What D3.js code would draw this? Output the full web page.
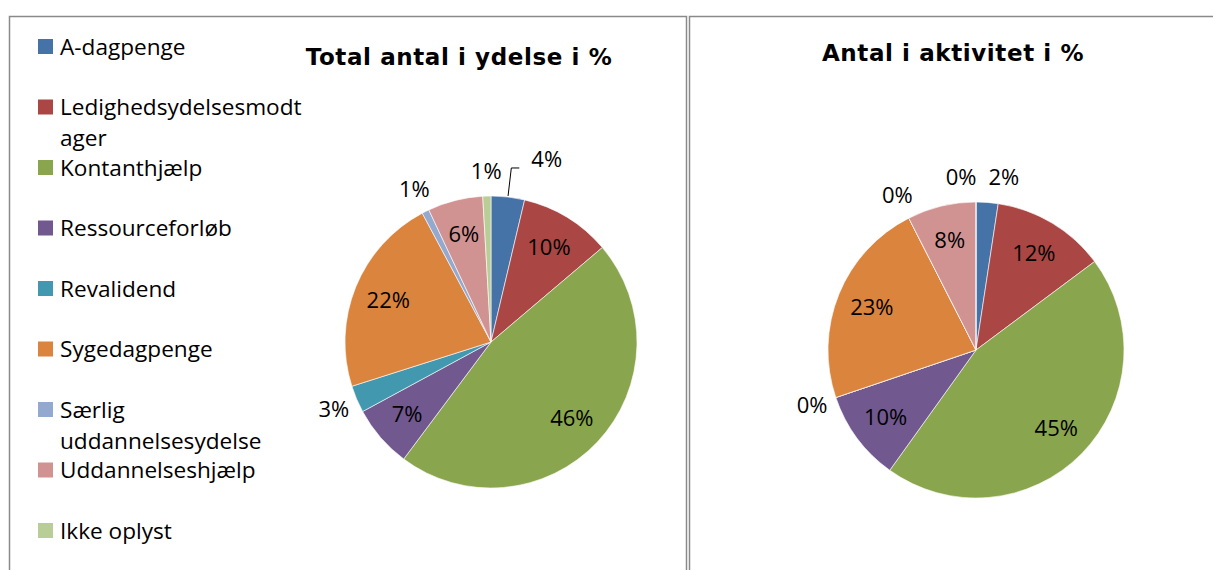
<!DOCTYPE html>
<html>
<head>
<meta charset="utf-8">
<script src="https://cdn.jsdelivr.net/npm/d3@7"></script>
<style>
  body { margin: 0; background: #fff; }
  svg { display: block; }
</style>
</head>
<body>
<script>
// Kategorier (ydelser)
var categories = ["A-dagpenge", "Ledighedsydelsesmodtager", "Kontanthjælp", "Ressourceforløb",
  "Revalidend", "Sygedagpenge", "Særlig uddannelsesydelse", "Uddannelseshjælp", "Ikke oplyst"];

// Værdier i %
var ydelseValues = [3.7, 10.1, 46.4, 6.9, 3.0, 22.1, 0.8, 6.1, 0.9];
var aktivitetValues = [2.4, 12.4, 45.1, 9.9, 0, 22.7, 0, 7.5, 0];

var titles = ["Total antal i ydelse i %", "Antal i aktivitet i %"];

// Excel 2007 farver
var palette = ["#4572A7", "#AA4643", "#89A54E", "#71588F", "#4198AF",
  "#DB843D", "#93A9CF", "#D19392", "#B9CD96"];

var width = 1213, height = 570;
var labelFont = "'Open Sans', sans-serif";

var color = d3.scaleOrdinal().domain(categories).range(palette);

var svg = d3.select("body").append("svg")
    .attr("width", width)
    .attr("height", height);

// Rammer om de to diagrammer
svg.append("rect")
    .attr("x", 9.5).attr("y", 16.5)
    .attr("width", 677).attr("height", 600)
    .attr("fill", "none").attr("stroke", "#8a8a8a").attr("stroke-width", 1.5);
svg.append("rect")
    .attr("x", 689.5).attr("y", 16.5)
    .attr("width", 600).attr("height", 600)
    .attr("fill", "none").attr("stroke", "#8a8a8a").attr("stroke-width", 1.5);

// Legende
var legendY = d3.scalePoint().domain(categories).range([54.5, 538.5]);
var legendMaxWidth = 248;

var measure = svg.append("text")
    .style("font-family", labelFont).style("font-size", "22.6px")
    .attr("visibility", "hidden");
function textWidth(s) { measure.text(s); return measure.node().getComputedTextLength(); }

// ombryd tekst som Excel (også midt i et ord)
function wrap(name) {
  var words = name.split(" "), lines = [], cur = "";
  words.forEach(function(w) {
    var test = cur ? cur + " " + w : w;
    if (textWidth(test) <= legendMaxWidth) { cur = test; return; }
    if (cur) lines.push(cur);
    cur = w;
    while (textWidth(cur) > legendMaxWidth) {
      var k = cur.length - 1;
      while (k > 1 && textWidth(cur.slice(0, k)) > legendMaxWidth) k--;
      lines.push(cur.slice(0, k));
      cur = cur.slice(k);
    }
  });
  if (cur) lines.push(cur);
  return lines;
}

var legend = svg.append("g").selectAll("g")
    .data(categories)
    .join("g")
    .attr("transform", function(d) { return "translate(0," + legendY(d) + ")"; });

legend.append("rect")
    .attr("x", 38).attr("y", -15.5)
    .attr("width", 15).attr("height", 15)
    .attr("fill", function(d) { return color(d); });

legend.append("text")
    .attr("x", 60)
    .style("font-family", labelFont).style("font-size", "22.6px")
    .attr("fill", "#000")
    .selectAll("tspan")
    .data(function(d) { return wrap(d); })
    .join("tspan")
    .attr("x", 60)
    .attr("dy", function(d, i) { return i === 0 ? 0 : 31; })
    .text(function(d) { return d; });

measure.remove();

// Diagrammer
var charts = [
  { values: ydelseValues, title: titles[0], cx: 491, cy: 342, r: 146, tx: 459, ty: 65, callout: "A-dagpenge" },
  { values: aktivitetValues, title: titles[1], cx: 976, cy: 350, r: 148, tx: 953, ty: 61, callout: null }
];

var pie = d3.pie().sort(null).value(function(d) { return d.value; });

charts.forEach(function(c) {
  var data = categories.map(function(name, i) { return { name: name, value: c.values[i] }; });
  var arcs = pie(data);

  svg.append("text")
      .attr("x", c.tx).attr("y", c.ty)
      .attr("text-anchor", "middle")
      .style("font-family", "'DejaVu Sans', sans-serif")
      .style("font-weight", "bold")
      .style("font-size", "23px")
      .style("letter-spacing", "0.6px")
      .text(c.title);

  var g = svg.append("g").attr("transform", "translate(" + c.cx + "," + c.cy + ")");

  var arc = d3.arc().innerRadius(0).outerRadius(c.r);
  var inArc = d3.arc().innerRadius(c.r * 0.76).outerRadius(c.r * 0.76);
  var outArc = d3.arc().innerRadius(c.r * 1.17).outerRadius(c.r * 1.17);
  var edgeArc = d3.arc().innerRadius(c.r + 1).outerRadius(c.r + 1);
  var elbowArc = d3.arc().innerRadius(c.r * 1.2).outerRadius(c.r * 1.2);

  g.selectAll("path.slice")
    .data(arcs)
    .join("path")
    .attr("class", "slice")
    .attr("d", arc)
    .attr("fill", function(d) { return color(d.data.name); })
    .attr("stroke", "#fff")
    .attr("stroke-width", 0.6);

  // placering af etiketter
  var labels = arcs.map(function(d) {
    var lab = { text: Math.round(d.value) + "%", d: d, outside: d.value < 5, anchor: "middle" };
    if (d.data.name === c.callout) {
      var p0 = edgeArc.centroid(d), p1 = elbowArc.centroid(d);
      lab.leader = [p0, p1, [p1[0] + 8, p1[1]]];
      lab.x = p1[0] + 20; lab.y = p1[1] - 9; lab.anchor = "start"; lab.fixed = true;
    } else {
      var p = lab.outside ? outArc.centroid(d) : inArc.centroid(d);
      lab.x = p[0]; lab.y = p[1];
    }
    return lab;
  });

  var texts = g.selectAll("text.lbl")
    .data(labels)
    .join("text")
    .attr("class", "lbl")
    .attr("text-anchor", function(d) { return d.anchor; })
    .attr("dy", "0.35em")
    .style("font-family", labelFont).style("font-size", "22px")
    .attr("fill", "#000")
    .text(function(d) { return d.text; });

  texts.each(function(d) { d.w = this.getComputedTextLength(); });

  // skub overlappende ydre etiketter fra hinanden
  var outs = labels.filter(function(d) { return d.outside && !d.fixed; });
  for (var it = 0; it < 10; it++) {
    for (var i = 0; i < outs.length; i++) {
      for (var j = i + 1; j < outs.length; j++) {
        var a = outs[i], b = outs[j];
        var need = (a.w + b.w) / 2 + 12;
        if (Math.abs(a.y - b.y) < 20 && Math.abs(a.x - b.x) < need) {
          var push = (need - Math.abs(a.x - b.x)) / 2;
          if (a.x <= b.x) { a.x -= push; b.x += push; } else { a.x += push; b.x -= push; }
        }
      }
    }
  }

  texts.attr("x", function(d) { return d.x; })
       .attr("y", function(d) { return d.y; });

  g.selectAll("path.leader")
    .data(labels.filter(function(d) { return d.leader; }))
    .join("path")
    .attr("class", "leader")
    .attr("d", function(d) { return d3.line()(d.leader); })
    .attr("fill", "none")
    .attr("stroke", "#000")
    .attr("stroke-width", 1);
});
</script>
</body>
</html>
